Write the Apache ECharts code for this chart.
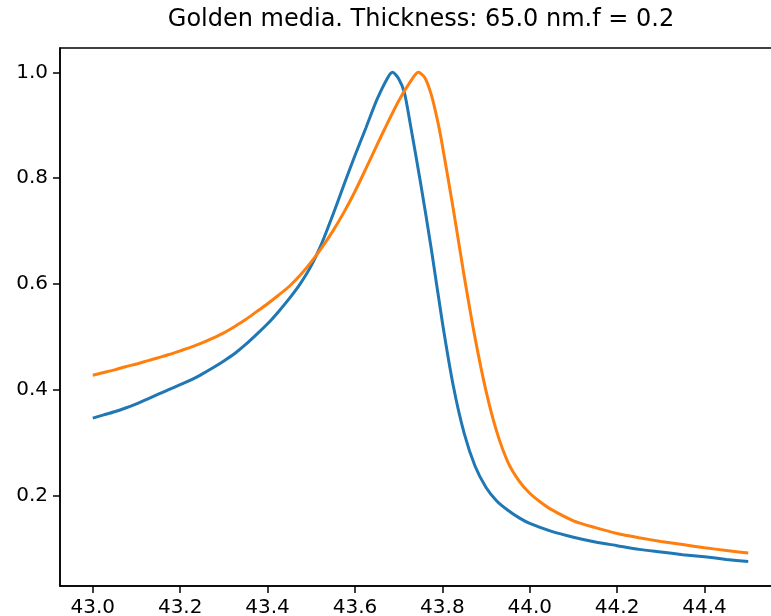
<!DOCTYPE html>
<html>
<head>
<meta charset="utf-8">
<script src="https://cdn.jsdelivr.net/npm/echarts@6/dist/echarts.min.js"></script>
<style>
html,body{margin:0;padding:0;background:#fff;}
#chart{width:771px;height:616px;}
</style>
</head>
<body>
<div id="chart"></div>
<script>
const titleText = "Golden media. Thickness: 65.0 nm.f = 0.2";
const xTicks = [43.0, 43.2, 43.4, 43.6, 43.8, 44.0, 44.2, 44.4];
const yTicks = [0.2, 0.4, 0.6, 0.8, 1.0];

const blueX = [43.000, 43.025, 43.050, 43.075, 43.100, 43.125, 43.150, 43.175, 43.200, 43.225, 43.250, 43.275, 43.300, 43.325, 43.350, 43.375, 43.400, 43.425, 43.450, 43.475, 43.500, 43.525, 43.550, 43.575, 43.600, 43.625, 43.650, 43.675, 43.686, 43.700, 43.713, 43.725, 43.750, 43.775, 43.800, 43.825, 43.850, 43.875, 43.900, 43.925, 43.950, 43.975, 44.000, 44.050, 44.100, 44.150, 44.200, 44.250, 44.300, 44.350, 44.400, 44.450, 44.500];
const blueY = [0.347, 0.353, 0.359, 0.366, 0.374, 0.383, 0.392, 0.401, 0.410, 0.419, 0.430, 0.442, 0.455, 0.469, 0.486, 0.505, 0.525, 0.548, 0.573, 0.601, 0.635, 0.679, 0.732, 0.788, 0.843, 0.895, 0.948, 0.990, 1.000, 0.988, 0.962, 0.910, 0.792, 0.665, 0.528, 0.408, 0.318, 0.256, 0.216, 0.190, 0.173, 0.159, 0.148, 0.133, 0.122, 0.113, 0.106, 0.099, 0.094, 0.089, 0.085, 0.080, 0.076];

const orangeX = [43.000, 43.025, 43.050, 43.075, 43.100, 43.125, 43.150, 43.175, 43.200, 43.225, 43.250, 43.275, 43.300, 43.325, 43.350, 43.375, 43.400, 43.425, 43.450, 43.475, 43.500, 43.525, 43.550, 43.575, 43.600, 43.625, 43.650, 43.675, 43.700, 43.725, 43.745, 43.760, 43.775, 43.790, 43.800, 43.825, 43.850, 43.875, 43.900, 43.925, 43.950, 43.975, 44.000, 44.025, 44.050, 44.100, 44.150, 44.200, 44.250, 44.300, 44.350, 44.400, 44.450, 44.500];
const orangeY = [0.428, 0.433, 0.438, 0.444, 0.449, 0.455, 0.461, 0.467, 0.474, 0.481, 0.489, 0.498, 0.508, 0.520, 0.533, 0.548, 0.563, 0.579, 0.596, 0.617, 0.642, 0.670, 0.701, 0.736, 0.775, 0.818, 0.862, 0.905, 0.946, 0.980, 1.000, 0.990, 0.957, 0.905, 0.862, 0.742, 0.615, 0.498, 0.398, 0.320, 0.264, 0.229, 0.205, 0.188, 0.174, 0.153, 0.140, 0.129, 0.121, 0.114, 0.108, 0.102, 0.097, 0.092];

const pairs = (xs, ys) => xs.map((x, i) => [x, ys[i]]);

const FONT = "DejaVu Sans";
const chart = echarts.init(document.getElementById('chart'), null, {renderer: 'canvas'});
chart.setOption({
  animation: false,
  backgroundColor: '#ffffff',
  title: {
    text: titleText,
    left: 421,
    top: 8,
    padding: 0,
    textAlign: 'center',
    textStyle: {fontFamily: FONT, fontSize: 24, fontWeight: 'normal', color: '#000'}
  },
  grid: {
    left: 60, top: 48, width: 721, bottom: 30,
    show: true, borderColor: '#000', borderWidth: 1.5, backgroundColor: 'transparent',
    containLabel: false,
    outerBoundsMode: 'none'
  },
  xAxis: {
    type: 'value',
    min: 42.925, max: 44.575,
    splitLine: {show: false},
    axisLine: {show: true, onZero: false, lineStyle: {color: '#000', width: 1.5}},
    axisTick: {show: true, length: 7, lineStyle: {color: '#000', width: 1.5}, customValues: xTicks},
    axisLabel: {
      customValues: xTicks, margin: 12,
      fontFamily: FONT, fontSize: 20, color: '#000',
      formatter: v => v.toFixed(1)
    }
  },
  yAxis: {
    type: 'value',
    min: 0.0298, max: 1.046,
    splitLine: {show: false},
    axisLine: {show: true, onZero: false, lineStyle: {color: '#000', width: 1.5}},
    axisTick: {show: true, length: 7, lineStyle: {color: '#000', width: 1.5}, customValues: yTicks},
    axisLabel: {
      customValues: yTicks, margin: 12,
      fontFamily: FONT, fontSize: 20, color: '#000',
      formatter: v => v.toFixed(1)
    }
  },
  series: [
    {
      type: 'line', data: pairs(blueX, blueY), showSymbol: false, smooth: 0.25,
      lineStyle: {color: '#1f77b4', width: 3}, itemStyle: {color: '#1f77b4'}
    },
    {
      type: 'line', data: pairs(orangeX, orangeY), showSymbol: false, smooth: 0.25,
      lineStyle: {color: '#ff7f0e', width: 3}, itemStyle: {color: '#ff7f0e'}
    }
  ]
});
</script>
</body>
</html>
